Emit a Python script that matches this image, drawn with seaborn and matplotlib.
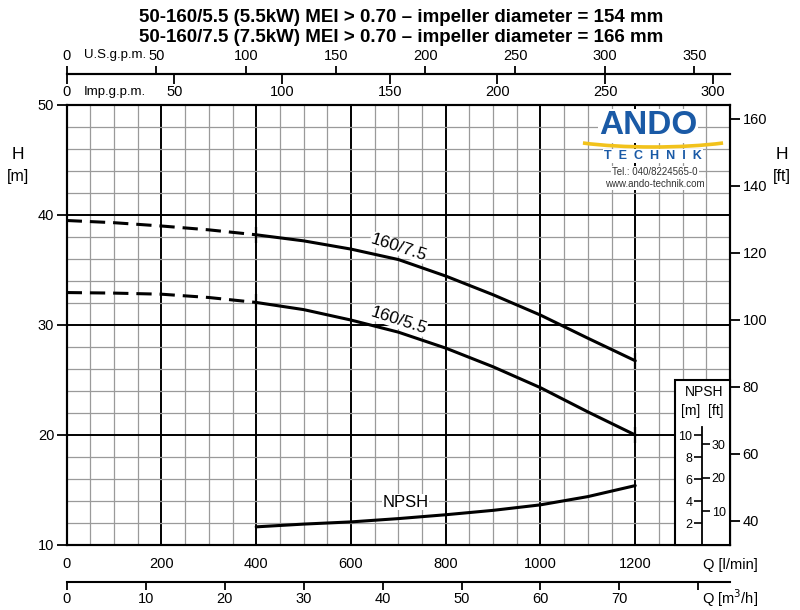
import matplotlib
matplotlib.use("Agg")
import matplotlib.pyplot as plt
from matplotlib.patches import Rectangle, Arc
from matplotlib.transforms import IdentityTransform
import seaborn as sns
import pandas as pd

# ============================================
# DATA
# ============================================
q_dashed = [0, 100, 200, 300, 400]                 # l/min
h75_dashed = [39.5, 39.3, 39.0, 38.65, 38.2]       # m
h55_dashed = [32.95, 32.9, 32.8, 32.5, 32.05]

q_solid = [400, 500, 600, 700, 800, 900, 1000, 1100, 1200]
h75_solid = [38.2, 37.65, 36.9, 35.95, 34.45, 32.75, 30.9, 28.8, 26.75]
h55_solid = [32.05, 31.4, 30.45, 29.35, 27.9, 26.2, 24.3, 22.1, 20.0]
npsh_m = [1.65, 1.9, 2.1, 2.4, 2.75, 3.15, 3.65, 4.4, 5.4]

curve_names = ["160/7.5", "160/5.5", "NPSH"]
title_lines = ["50-160/5.5 (5.5kW) MEI > 0.70 \u2013 impeller diameter = 154 mm",
               "50-160/7.5 (7.5kW) MEI > 0.70 \u2013 impeller diameter = 166 mm"]

lpm_ticks = [0, 200, 400, 600, 800, 1000, 1200, 1400]
lpm_labels = ["0", "200", "400", "600", "800", "1000", "1200", "Q [l/min]"]
m3h_ticks = [0, 10, 20, 30, 40, 50, 60, 70, 80]
m3h_labels = ["0", "10", "20", "30", "40", "50", "60", "70", ""]
usgpm_ticks = [0, 50, 100, 150, 200, 250, 300, 350]
impgpm_ticks = [0, 50, 100, 150, 200, 250, 300]
h_m_ticks = [10, 20, 30, 40, 50]
h_ft_ticks = [40, 60, 80, 100, 120, 140, 160]
npsh_m_ticks = [2, 4, 6, 8, 10]
npsh_ft_ticks = [10, 20, 30]

M_TO_FT = 3.28084
L_PER_USGAL = 3.78541
L_PER_IMPGAL = 4.54609
Q_MAX = 1400
H_MIN, H_MAX = 10, 50

# ============================================
# STYLE
# ============================================
sns.set_theme(style="white")
FONT = ["Liberation Sans", "DejaVu Sans"]
plt.rcParams["font.family"] = FONT
plt.rcParams["text.color"] = "black"
plt.rcParams["axes.labelcolor"] = "black"
plt.rcParams["axes.linewidth"] = 1.5
plt.rcParams["xtick.color"] = "black"
plt.rcParams["ytick.color"] = "black"

W, H = 800, 610
fig = plt.figure(figsize=(W / 100, H / 100), dpi=100)


def fx(x):
    return x / W


def fy(y):
    return 1 - y / H


X0, X1, Y0, Y1 = 66.7, 730, 105, 545  # main axes in pixels
tick_kw = dict(direction="out", width=1.3, colors="black", labelsize=10.5)

# ============================================
# MAIN AXES
# ============================================
ax = fig.add_axes([fx(X0), fy(Y1), (X1 - X0) / W, (Y1 - Y0) / H])
ax.set_xlim(0, Q_MAX)
ax.set_ylim(H_MIN, H_MAX)
ax.set_xticks(lpm_ticks)
ax.set_xticklabels(lpm_labels)
ax.set_xticks(range(0, Q_MAX + 1, 50), minor=True)
ax.set_yticks(h_m_ticks)
ax.set_yticks(range(H_MIN, H_MAX + 1, 2), minor=True)
ax.tick_params(which="major", length=7, pad=2, **tick_kw)
ax.tick_params(which="minor", length=0)
ax.grid(which="minor", color="#9a9a9a", lw=0.9)
ax.grid(which="major", color="black", lw=1.4)
ax.set_axisbelow(True)
for s in ax.spines.values():
    s.set_color("black")
    s.set_linewidth(1.5)

# pump curves
dash_df = pd.DataFrame({"Q": q_dashed, "H75": h75_dashed, "H55": h55_dashed})
solid_df = pd.DataFrame({"Q": q_solid, "H75": h75_solid, "H55": h55_solid,
                         "NPSH": [v + H_MIN for v in npsh_m]})
for col in ["H75", "H55"]:
    sns.lineplot(data=dash_df, x="Q", y=col, ax=ax, color="black", lw=2.2,
                 linestyle=(0, (5, 2.6)), errorbar=None, zorder=5)
    sns.lineplot(data=solid_df, x="Q", y=col, ax=ax, color="black", lw=2.2,
                 errorbar=None, zorder=5)
    ax.plot([q_solid[0], q_solid[-1]], [solid_df[col].iloc[0], solid_df[col].iloc[-1]],
            ls="none", marker="|", ms=11, mew=1.6, color="black", zorder=6)
# NPSH plotted on main scale: inset scale 0 m sits on H = 10 m
sns.lineplot(data=solid_df, x="Q", y="NPSH", ax=ax, color="black", lw=2.2,
             errorbar=None, zorder=5)
ax.set_xlabel("")
ax.set_ylabel("")

lbl_box = dict(fc="white", ec="none", pad=0.3)
ax.text(700, 37.05, curve_names[0], rotation=-18, ha="center", va="center",
        fontsize=12.5, zorder=7, bbox=lbl_box)
ax.text(700, 30.4, curve_names[1], rotation=-18, ha="center", va="center",
        fontsize=12.5, zorder=7, bbox=lbl_box)
ax.text(715, 13.9, curve_names[2], ha="center", va="center",
        fontsize=12, zorder=7, bbox=lbl_box)

# right H [ft] axis
ax_ft = ax.twinx()
ax_ft.set_ylim(H_MIN * M_TO_FT, H_MAX * M_TO_FT)
ax_ft.set_yticks(h_ft_ticks)
ax_ft.tick_params(length=7, pad=2, **tick_kw)
ax_ft.grid(False)
for s in ax_ft.spines.values():
    s.set_color("black")
    s.set_linewidth(1.5)

fig.text(fx(18), fy(155), "H", ha="center", va="center", fontsize=12.5)
fig.text(fx(18), fy(177), "[m]", ha="center", va="center", fontsize=11.5)
fig.text(fx(782), fy(155), "H", ha="center", va="center", fontsize=12.5)
fig.text(fx(782), fy(177), "[ft]", ha="center", va="center", fontsize=11.5)


# ============================================
# EXTRA FLOW SCALES (zero-height axes)
# ============================================
def flow_scale(y_px, qmax, ticks, labels, top, pad=2, length=6.5):
    a = fig.add_axes([fx(X0), fy(y_px), (X1 - X0) / W, 0])
    a.set_xlim(0, qmax)
    a.set_yticks([])
    a.set_facecolor("none")
    for name, s in a.spines.items():
        s.set_visible(name == ("top" if top else "bottom"))
        s.set_color("black")
        s.set_linewidth(1.5)
    if top:
        a.xaxis.tick_top()
    else:
        a.xaxis.tick_bottom()
    a.set_xticks(ticks)
    a.set_xticklabels(labels)
    a.tick_params(axis="x", length=length, pad=pad, **tick_kw)
    a.grid(False)
    return a


flow_scale(73.5, Q_MAX / L_PER_USGAL, usgpm_ticks, [str(t) for t in usgpm_ticks], True,
           pad=1.5, length=6)
flow_scale(73.5, Q_MAX / L_PER_IMPGAL, impgpm_ticks, [str(t) for t in impgpm_ticks], False,
           pad=1.5, length=7)
flow_scale(582, Q_MAX * 60 / 1000, m3h_ticks, m3h_labels, False, pad=1, length=6)
fig.text(fx(84), fy(55), "U.S.g.p.m.", ha="left", va="center", fontsize=9.5)
fig.text(fx(84), fy(92), "Imp.g.p.m.", ha="left", va="center", fontsize=9.5)
fig.text(fx(730), fy(598), "Q [m$^3$/h]", ha="center", va="center", fontsize=10.5)

# ============================================
# NPSH INSET SCALE
# ============================================
fig.add_artist(Rectangle((fx(675), fy(545)), (730 - 675) / W, (545 - 380) / H,
                         transform=fig.transFigure, fc="white", ec="black", lw=1.5, zorder=3))
top_m = (545 - 427) / 11.0
ax_n = fig.add_axes([fx(702), fy(545), 0, (545 - 427) / H], zorder=5)
ax_n.set_ylim(0, top_m)
ax_n.set_xticks([])
ax_n.set_facecolor("none")
for name, s in ax_n.spines.items():
    s.set_visible(name == "left")
    s.set_color("black")
    s.set_linewidth(1.3)
ax_n.set_yticks(npsh_m_ticks)
ax_n.tick_params(axis="y", length=5.5, pad=1.5, direction="out", width=1.2,
                 colors="black", labelsize=9)
ax_n.grid(False)
ax_nf = ax_n.twinx()
ax_nf.set_zorder(6)
ax_nf.set_ylim(0, top_m * M_TO_FT)
ax_nf.set_yticks(npsh_ft_ticks)
ax_nf.tick_params(axis="y", length=5.5, pad=1.5, direction="out", width=1.2,
                  colors="black", labelsize=9)
for s in ax_nf.spines.values():
    s.set_visible(False)
ax_nf.grid(False)
fig.text(fx(704), fy(392), "NPSH", ha="center", va="center", fontsize=10, zorder=4)
fig.text(fx(702), fy(411), "[m]  [ft]", ha="center", va="center", fontsize=10, zorder=4)

# ============================================
# TITLE AND LOGO
# ============================================
fig.text(fx(401), fy(18), title_lines[0], ha="center", va="center",
         fontsize=13.5, fontweight="bold")
fig.text(fx(401), fy(38), title_lines[1], ha="center", va="center",
         fontsize=13.5, fontweight="bold")

blue = "#1a5aa6"
logo_box = dict(fc="white", ec="none", pad=1.0)
fig.text(fx(648), fy(126), "ANDO", ha="center", va="center", fontsize=24,
         fontweight="bold", color=blue, bbox=logo_box, zorder=4)
fig.add_artist(Arc((653, H - 129.5), 220, 35, theta1=190.9, theta2=349.1,
                   transform=IdentityTransform(), color="#f2c21b", lw=2.6, zorder=5))
fig.text(fx(653), fy(156), "T  E  C  H  N  I  K", ha="center", va="center",
         fontsize=9, fontweight="bold", color=blue, bbox=logo_box, zorder=4)
fig.text(fx(655), fy(172), "Tel.: 040/8224565-0", ha="center", va="center",
         fontsize=7, color="#333333", bbox=logo_box, zorder=4)
fig.text(fx(655), fy(184), "www.ando-technik.com", ha="center", va="center",
         fontsize=7, color="#333333", bbox=logo_box, zorder=4)

fig.savefig("out.png", dpi=100)
